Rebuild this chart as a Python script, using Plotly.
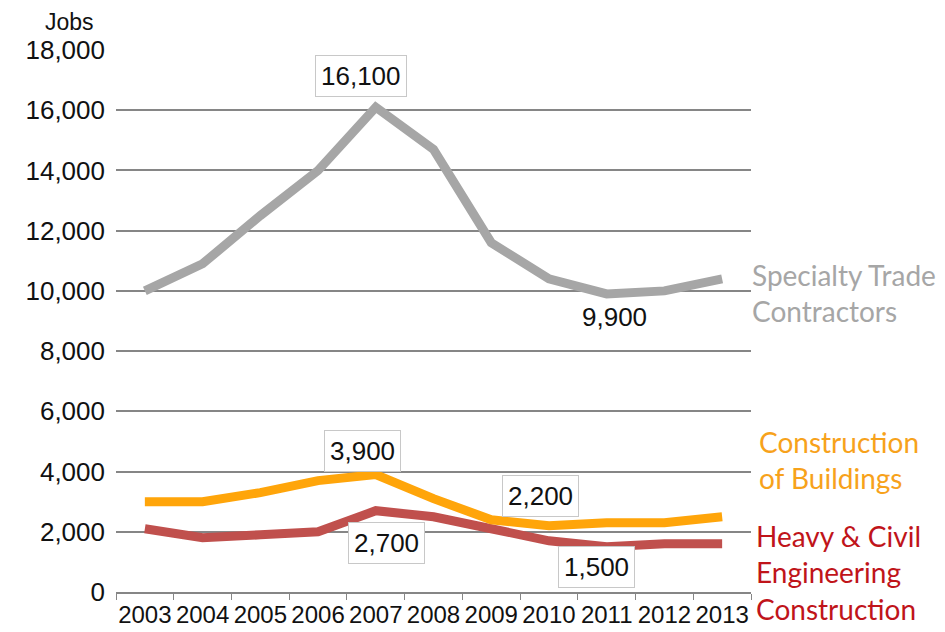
import plotly.graph_objects as go

years = ["2003", "2004", "2005", "2006", "2007", "2008", "2009", "2010", "2011", "2012", "2013"]
specialty = [10000, 10900, 12500, 14000, 16100, 14700, 11600, 10400, 9900, 10000, 10400]
buildings = [3000, 3000, 3300, 3700, 3900, 3100, 2400, 2200, 2300, 2300, 2500]
heavy = [2100, 1800, 1900, 2000, 2700, 2500, 2100, 1700, 1500, 1600, 1600]

y_ticks = [0, 2000, 4000, 6000, 8000, 10000, 12000, 14000, 16000, 18000]

GRAY = "#a6a6a6"
ORANGE = "#ffa50a"
RED = "#c0504d"
GRID = "#868686"

fig = go.Figure()
for vals, col in [(heavy, RED), (buildings, ORANGE), (specialty, GRAY)]:
    fig.add_trace(go.Scatter(x=years, y=vals, mode="lines",
                             line=dict(color=col, width=9, shape="linear"),
                             hoverinfo="skip", showlegend=False))

box = dict(font=dict(family="Liberation Sans, Arial", size=26, color="#111"),
           bgcolor="white", bordercolor="#c8c8c8", borderwidth=1, borderpad=5,
           showarrow=False, xref="x", yref="y")

# value callouts: (year index, series, xshift, yshift, boxed)
callouts = [
    (4, specialty, -15, 31, True),
    (8, specialty, 8, -23, False),
    (4, buildings, -13, 24, True),
    (7, buildings, -8, 30, True),
    (4, heavy, 11, -32, True),
    (8, heavy, -10, -20, True),
]
for i, ser, dx, dy, boxed in callouts:
    a = dict(box)
    if not boxed:
        a["bordercolor"] = "rgba(0,0,0,0)"
        a["bgcolor"] = "rgba(0,0,0,0)"
    fig.add_annotation(x=i, y=ser[i], text=f"{ser[i]:,}", xshift=dx, yshift=dy, **a)

label_font = "Lato, Carlito, Calibri, sans-serif"
series_labels = [
    ("Specialty Trade<br>Contractors", GRAY, specialty[-1], -1, -14),
    ("Construction<br>of Buildings", "#f7a21b", buildings[-1], 6, 57),
    ("Heavy &amp; Civil<br>Engineering<br>Construction", "#c0141a", heavy[-1], 3, -29),
]
for txt, col, yv, dx, dy in series_labels:
    fig.add_annotation(x=1, xref="paper", y=yv, yref="y", text=txt, showarrow=False,
                       xanchor="left", yanchor="middle", align="left", xshift=dx, yshift=dy,
                       font=dict(family=label_font, size=28, color=col))

fig.add_annotation(x=0, xref="paper", xanchor="right", xshift=-20, y=1, yref="paper",
                   yanchor="bottom", yshift=13, text="Jobs", showarrow=False,
                   font=dict(family="Liberation Sans, Arial", size=23, color="#111"))

fig.update_layout(
    width=945, height=632,
    margin=dict(l=116, r=194, t=50, b=40),
    plot_bgcolor="white", paper_bgcolor="white",
    xaxis=dict(type="category", range=[-0.5, 10.5], tickson="boundaries",
               ticks="outside", ticklen=6, tickcolor=GRID, showline=True,
               linecolor=GRID, linewidth=1.5, showgrid=False, tickangle=0,
               automargin=False,
               tickfont=dict(family="Liberation Sans, Arial", size=24, color="#111")),
    yaxis=dict(range=[0, 18000], tickvals=y_ticks, tickformat=",", showgrid=True,
               gridcolor=GRID, gridwidth=1.5, zeroline=False, showline=False,
               ticks="", ticklabelstandoff=10, automargin=False,
               tickfont=dict(family="Liberation Sans, Arial", size=26, color="#111")),
)

fig.write_html("out.html", config={"displayModeBar": False},
               post_script="document.body.style.margin='0';document.body.style.overflow='hidden';")
